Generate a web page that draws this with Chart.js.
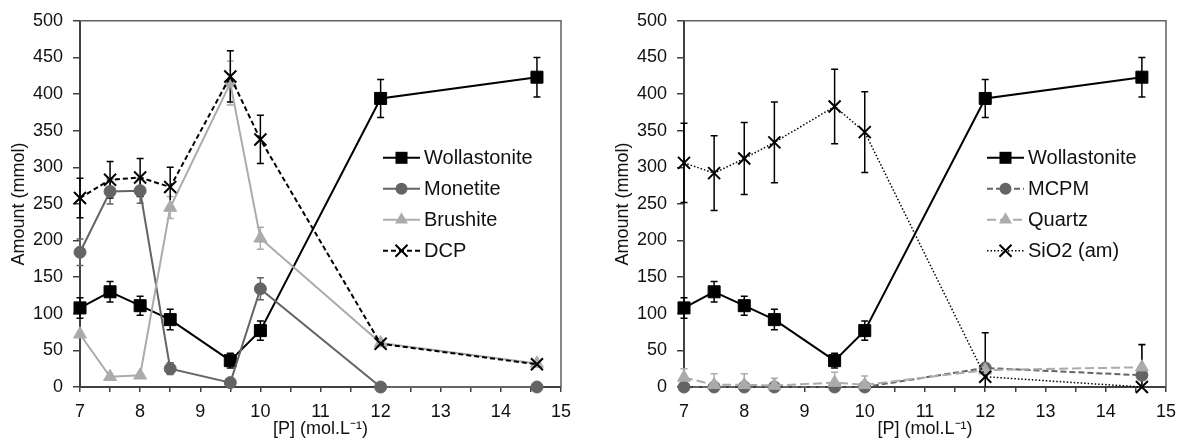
<!DOCTYPE html>
<html lang="en">
<head>
<meta charset="UTF-8">
<title>Phase amounts vs [P]</title>
<script src="https://cdn.jsdelivr.net/npm/chart.js"></script>
<style>
  body { margin: 0; background: #fff; }
  .wrap { position: relative; width: 1185px; height: 441px; }
  #left { position: absolute; left: 0; top: 0; }
  #right { position: absolute; left: 592px; top: 0; }
</style>
</head>
<body>
<div class="wrap">
  <canvas id="left" width="592" height="441"></canvas>
  <canvas id="right" width="593" height="441"></canvas>
</div>
<script>
  // [P] concentrations (mol.L-1)
  const conc = [7, 7.5, 8, 8.5, 9.5, 10, 12, 14.6];

  // left panel
  const wollastonite    = [108, 130, 111, 92, 36, 77, 394, 423];
  const wollastoniteErr = [14, 14, 13, 14, 10, 13, 26, 27];
  const monetite        = [184, 267, 268, 25, 6, 134, 0, 0];
  const monetiteErr     = [18, 17, 17, 8, 0, 15, 0, 0];
  const brushite        = [72, 14, 16, 245, 415, 203, 60, 32];
  const brushiteErr     = [0, 0, 0, 15, 30, 15, 0, 0];
  const dcp             = [258, 283, 286, 273, 424, 338, 59, 31];
  const dcpErr          = [27, 25, 26, 27, 35, 33, 0, 0];

  // right panel
  const mcpm            = [0, 0, 0, 0, 0, 0, 26, 16];
  const quartz          = [13, 3, 3, 2, 6, 3, 23, 27];
  const quartzErr       = [12, 15, 15, 10, 14, 12, 0, 30];
  const sio2            = [306, 292, 312, 334, 383, 348, 14, 0];
  const sio2Err         = [54, 51, 49, 55, 51, 55, 60, 58];

  const yTicks = { min: 0, max: 500, step: 50 };
  const xTicks = { min: 7, max: 15, step: 0.5 };

  const BLACK = '#000000', DARK = '#646464', LIGHT = '#ababab', AXIS = '#404040';
  const FONT = 'Liberation Sans, Arial, sans-serif';

  const pts = vals => conc.map((c, i) => ({ x: c, y: vals[i] }));

  function drawMarker(ctx, style, x, y, r) {
    ctx.beginPath();
    if (style === 'rect') {
      const s = r * Math.SQRT1_2;
      ctx.rect(x - s, y - s, 2 * s, 2 * s);
      ctx.fill();
    } else if (style === 'circle') {
      ctx.arc(x, y, r, 0, Math.PI * 2);
      ctx.fill();
    } else if (style === 'triangle') {
      ctx.moveTo(x, y - r);
      ctx.lineTo(x + r * 0.866, y + r / 2);
      ctx.lineTo(x - r * 0.866, y + r / 2);
      ctx.closePath();
      ctx.fill();
    } else if (style === 'crossRot') {
      const s = r * Math.SQRT1_2;
      ctx.moveTo(x - s, y - s); ctx.lineTo(x + s, y + s);
      ctx.moveTo(x + s, y - s); ctx.lineTo(x - s, y + s);
      ctx.setLineDash([]);
      ctx.lineWidth = 2;
      ctx.stroke();
    }
  }

  const errorBars = {
    id: 'errorBars',
    beforeDatasetsDraw(chart) {
      const { ctx, chartArea, scales: { x, y } } = chart;
      chart.data.datasets.forEach(ds => {
        if (!ds.errors) return;
        ctx.save();
        ctx.strokeStyle = ds.borderColor;
        ctx.lineWidth = 1.5;
        ds.data.forEach((p, j) => {
          const e = ds.errors[j];
          if (!e) return;
          const px = x.getPixelForValue(p.x);
          const top = Math.max(y.getPixelForValue(p.y + e), chartArea.top);
          const bot = Math.min(y.getPixelForValue(p.y - e), chartArea.bottom);
          ctx.beginPath();
          ctx.moveTo(px, top); ctx.lineTo(px, bot);
          if (p.y + e <= yTicks.max) { ctx.moveTo(px - 3.5, top); ctx.lineTo(px + 3.5, top); }
          if (p.y - e >= yTicks.min) { ctx.moveTo(px - 3.5, bot); ctx.lineTo(px + 3.5, bot); }
          ctx.stroke();
        });
        ctx.restore();
      });
    }
  };

  const frameAndLegend = {
    id: 'frameAndLegend',
    afterDraw(chart) {
      const { ctx, chartArea: a } = chart;
      ctx.save();
      ctx.strokeStyle = '#606060';
      ctx.lineWidth = 1.5;
      ctx.beginPath();
      ctx.moveTo(a.left, a.top); ctx.lineTo(a.right, a.top); ctx.lineTo(a.right, a.bottom);
      ctx.stroke();

      const lx = a.left + 303, ly = a.top + 137;
      ctx.font = '20px ' + FONT;
      ctx.textBaseline = 'middle';
      chart.data.datasets.forEach((ds, i) => {
        const yy = ly + i * 31;
        ctx.strokeStyle = ds.borderColor;
        ctx.fillStyle = ds.borderColor;
        ctx.lineWidth = ds.borderWidth;
        ctx.setLineDash(ds.borderDash || []);
        ctx.beginPath();
        ctx.moveTo(lx, yy); ctx.lineTo(lx + 37, yy);
        ctx.stroke();
        drawMarker(ctx, ds.pointStyle, lx + 18.5, yy, ds.pointRadius);
        ctx.setLineDash([]);
        ctx.fillStyle = '#111';
        ctx.fillText(ds.label, lx + 41, yy + 1);
      });
      ctx.restore();
    }
  };

  // later series sit on top of earlier ones, like the original plot
  function series(idx, label, vals, errs, color, style, radius, dash, width) {
    return {
      label, data: pts(vals), errors: errs, order: 10 - idx,
      borderColor: color, backgroundColor: color,
      pointBackgroundColor: color, pointBorderColor: color,
      pointStyle: style, pointRadius: radius, pointHoverRadius: radius,
      pointBorderWidth: style === 'crossRot' ? 2 : 1,
      borderWidth: width || 2, borderDash: dash || [],
      tension: 0, clip: false
    };
  }

  function makeChart(id, datasets, padLeft, padRight) {
    new Chart(document.getElementById(id), {
      type: 'line',
      data: { datasets },
      options: {
        responsive: false,
        animation: false,
        events: [],
        layout: { padding: { top: 20, right: padRight, left: padLeft, bottom: 0 } },
        plugins: { legend: { display: false }, tooltip: { enabled: false } },
        scales: {
          x: {
            type: 'linear',
            min: xTicks.min, max: xTicks.max,
            afterFit: s => { s.height = 54; },
            border: { color: AXIS, width: 2 },
            grid: { drawOnChartArea: false, tickLength: 5, color: AXIS, lineWidth: 1.5 },
            ticks: {
              stepSize: xTicks.step, autoSkip: false, maxRotation: 0, padding: 9,
              color: '#111', font: { family: FONT, size: 18 },
              callback: v => Number.isInteger(v) ? v : ''
            },
            title: {
              display: true, text: '[P] (mol.L⁻¹)', color: '#111',
              font: { family: FONT, size: 18 }, padding: { top: 0, bottom: 1 }
            }
          },
          y: {
            min: yTicks.min, max: yTicks.max,
            afterFit: s => { s.width = 80; },
            border: { color: AXIS, width: 2 },
            grid: { drawOnChartArea: false, tickLength: 7, color: AXIS, lineWidth: 1.5 },
            ticks: {
              stepSize: yTicks.step, padding: 10,
              color: '#111', font: { family: FONT, size: 18 }
            },
            title: {
              display: true, text: 'Amount (mmol)', color: '#111',
              font: { family: FONT, size: 18 }, padding: { top: 8, bottom: 0 }
            }
          }
        }
      },
      plugins: [errorBars, frameAndLegend]
    });
  }

  makeChart('left', [
    series(0, 'Wollastonite', wollastonite, wollastoniteErr, BLACK, 'rect', 8.5),
    series(1, 'Monetite', monetite, monetiteErr, DARK, 'circle', 6),
    series(2, 'Brushite', brushite, brushiteErr, LIGHT, 'triangle', 7.5),
    series(3, 'DCP', dcp, dcpErr, BLACK, 'crossRot', 8.5, [5, 3])
  ], 0, 31);

  makeChart('right', [
    series(0, 'Wollastonite', wollastonite, wollastoniteErr, BLACK, 'rect', 8.5),
    series(1, 'MCPM', mcpm, null, DARK, 'circle', 6, [6, 3]),
    series(2, 'Quartz', quartz, quartzErr, LIGHT, 'triangle', 7.5, [9, 4]),
    series(3, 'SiO2 (am)', sio2, sio2Err, BLACK, 'crossRot', 8.5, [1.5, 2], 1.5)
  ], 12, 18);
</script>
</body>
</html>
